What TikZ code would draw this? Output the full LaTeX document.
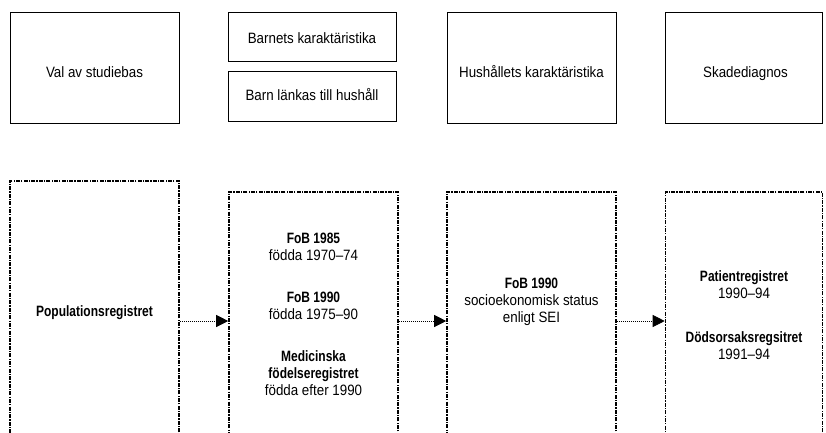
\documentclass[tikz,border=0pt]{standalone}
\usepackage{fontspec}
\setmainfont{Liberation Sans}[FakeStretch=0.89,BoldFeatures={FakeStretch=0.8}]
\usetikzlibrary{arrows.meta}
\begin{document}
\begin{tikzpicture}[x=1pt,y=-1pt,
  every node/.style={font=\fontsize{15pt}{17pt}\selectfont},
  topbox/.style={draw=black,line width=1pt,inner sep=0pt,minimum width=169pt,minimum height=111pt,text height=19pt,text depth=0pt},
  regbox/.style={draw=black,line width=1.6pt,dash pattern=on 4pt off 1.2pt on 1.2pt off 1.2pt,inner sep=0pt,minimum width=169pt},
  regtext/.style={anchor=north,inner sep=0pt,align=center},
  flow/.style={line width=0.8pt,dash pattern=on 1pt off 1pt,-{Triangle[length=12pt,width=12pt]}}
]
\useasboundingbox (0,0) rectangle (826,432);
\clip (0,0) rectangle (826,432);

% process steps
\node[topbox] (val) at (94.5,67.5) {Val av studiebas};
\node[topbox,minimum width=168pt,minimum height=49pt,text height=13pt] (barn1) at (312,36.5) {Barnets karaktäristika};
\node[topbox,minimum width=168pt,minimum height=50pt,text height=8pt] (barn2) at (312,96) {Barn länkas till hushåll};
\node[topbox] (hush) at (531.5,67.5) {Hushållets karaktäristika};
\node[topbox,minimum width=157pt] (skada) at (743.5,67.5) {\hspace*{4pt}Skadediagnos};

% registers used in each step
\node[regbox,minimum height=280pt] (pop) at (94.5,321) {};
\node[regbox,minimum width=169pt,minimum height=258pt] (fob) at (313.5,321) {};
\node[regbox,minimum height=258pt] (sei) at (531.5,321) {};
\node[regbox,minimum width=157pt,minimum height=258pt] (pat) at (744,321) {};

\node[regtext] (poptxt) at (94.5,305) {\textbf{Populationsregistret}};
\node[regtext] (fobtxt) at (313.5,233) {\textbf{FoB 1985}\\födda 1970--74\\[25pt]
  \textbf{FoB 1990}\\födda 1975--90\\[25pt]
  \textbf{Medicinska}\\\textbf{födelseregistret}\\födda efter 1990};
\node[regtext] (seitxt) at (531.5,278) {\textbf{FoB 1990}\\socioekonomisk status\\enligt SEI};
\node[regtext] (pattxt) at (744,270) {\textbf{Patientregistret}\\1990--94\\[27pt]
  \textbf{Dödsorsaksregsitret}\\1991--94};

% links between registers
\draw[flow] (pop.east) -- (fob.west);
\draw[flow] (fob.east) -- (sei.west);
\draw[flow] (sei.east) -- (pat.west);
\end{tikzpicture}
\end{document}
